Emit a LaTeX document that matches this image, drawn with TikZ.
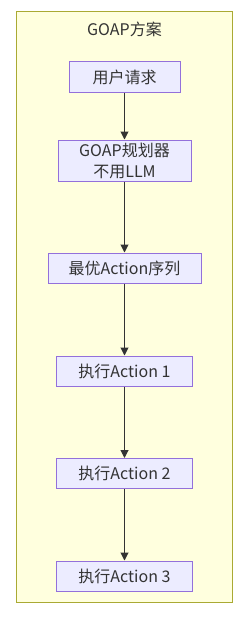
\documentclass[tikz,border=0pt]{standalone}
\usepackage{fontspec}
\setmainfont{Noto Sans CJK SC}
\usetikzlibrary{arrows.meta}
\definecolor{clusterfill}{HTML}{FFFFDE}
\definecolor{clusterline}{HTML}{AAAA33}
\definecolor{boxfill}{HTML}{ECECFF}
\definecolor{boxline}{HTML}{9370DB}
\definecolor{inkgray}{HTML}{333333}

\begin{document}
\begin{tikzpicture}[x=1pt,y=-1pt,font=\fontsize{16}{21}\selectfont,text=inkgray,>={Triangle[length=8pt,width=8pt]},
  stepbox/.style={draw=boxline,line width=1pt,fill=boxfill,inner sep=0pt,minimum height=30pt,align=center},
  flow/.style={->,line width=1pt,draw=inkgray}]
  \useasboundingbox (0,0) rectangle (249,618);
  \filldraw[fill=clusterfill,draw=clusterline,line width=1pt] (16,12) rectangle (232,602);
  \node (title) at (124.5,29) {GOAP方案};

  \node[stepbox,minimum width=111pt] (req) at (124.5,77) {用户请求};
  \node[stepbox,minimum width=133pt,minimum height=41pt] (planner) at (124.5,160.5) {GOAP规划器\\不用LLM};
  \node[stepbox,minimum width=153pt] (seq) at (124.5,268) {最优Action序列};
  \node[stepbox,minimum width=136pt] (act1) at (124.5,371) {执行Action 1};
  \node[stepbox,minimum width=136pt] (act2) at (124.5,473.5) {执行Action 2};
  \node[stepbox,minimum width=136pt] (act3) at (124.5,576) {执行Action 3};

  \draw[flow] (req) -- (planner);
  \draw[flow] (planner) -- (seq);
  \draw[flow] (seq) -- (act1);
  \draw[flow] (act1) -- (act2);
  \draw[flow] (act2) -- (act3);
\end{tikzpicture}
\end{document}
